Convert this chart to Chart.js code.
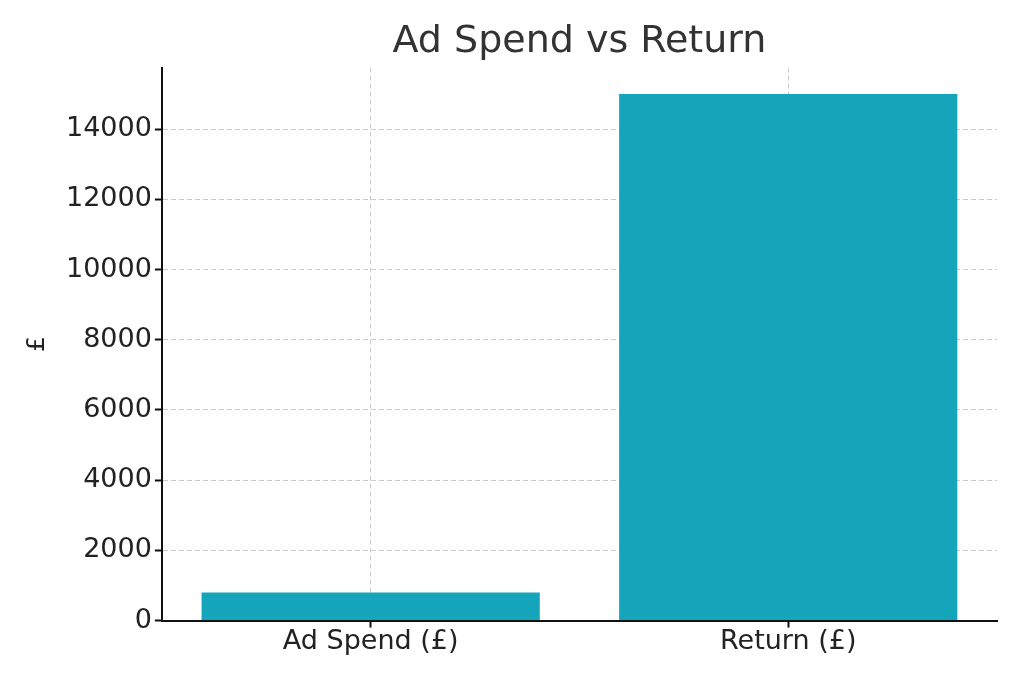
<!DOCTYPE html>
<html>
<head>
    <title>Ad Spend vs Return</title>
    <script src="https://cdn.jsdelivr.net/npm/chart.js"></script>
    <style>
        body { margin: 0; background: #fff; }
        #wrap { width: 1024px; height: 683px; }
    </style>
</head>
<body>
    <div id="wrap"><canvas id="adChart"></canvas></div>
    <script>
        // Data
        const categories = ['Ad Spend (£)', 'Return (£)'];
        const amounts = [800, 15000];
        const yTicks = [0, 2000, 4000, 6000, 8000, 10000, 12000, 14000];

        const font = 'DejaVu Sans';
        const gridColor = '#cccccc';

        const ctx = document.getElementById('adChart').getContext('2d');
        new Chart(ctx, {
            type: 'bar',
            data: {
                labels: categories,
                datasets: [{
                    data: amounts,
                    backgroundColor: '#14a5ba',
                    barPercentage: 0.81,
                    categoryPercentage: 1
                }]
            },
            options: {
                responsive: true,
                maintainAspectRatio: false,
                animation: false,
                layout: { padding: { left: 12, right: 27, top: 5, bottom: 27 } },
                plugins: {
                    legend: { display: false },
                    tooltip: { enabled: false },
                    title: {
                        display: true,
                        fullSize: false,
                        text: 'Ad Spend vs Return',
                        color: '#333',
                        font: { family: font, size: 38, weight: 'normal' },
                        padding: { top: 14, bottom: 3 }
                    }
                },
                scales: {
                    x: {
                        z: 1,
                        offset: true,
                        grid: {
                            offset: false,
                            color: gridColor,
                            lineWidth: 1,
                            tickColor: '#111',
                            tickWidth: 2,
                            tickLength: 7,
                            tickBorderDash: []
                        },
                        border: { color: '#111', width: 2, dash: [5, 3] },
                        ticks: { color: '#222', font: { family: font, size: 27 }, padding: -2 }
                    },
                    y: {
                        z: 1,
                        min: 0,
                        max: 15750,
                        afterBuildTicks: (scale) => {
                            scale.ticks = yTicks.map(v => ({ value: v }));
                        },
                        grid: {
                            color: gridColor,
                            lineWidth: 1,
                            tickColor: '#111',
                            tickWidth: 2,
                            tickLength: 7,
                            tickBorderDash: []
                        },
                        border: { color: '#111', width: 2, dash: [5, 3] },
                        title: {
                            display: true,
                            text: '£',
                            color: '#222',
                            font: { family: font, size: 25 },
                            padding: { top: 10, bottom: 11 }
                        },
                        ticks: {
                            color: '#222',
                            font: { family: font, size: 27 },
                            padding: 3,
                            callback: (v) => String(v)
                        }
                    }
                }
            }
        });
    </script>
</body>
</html>
